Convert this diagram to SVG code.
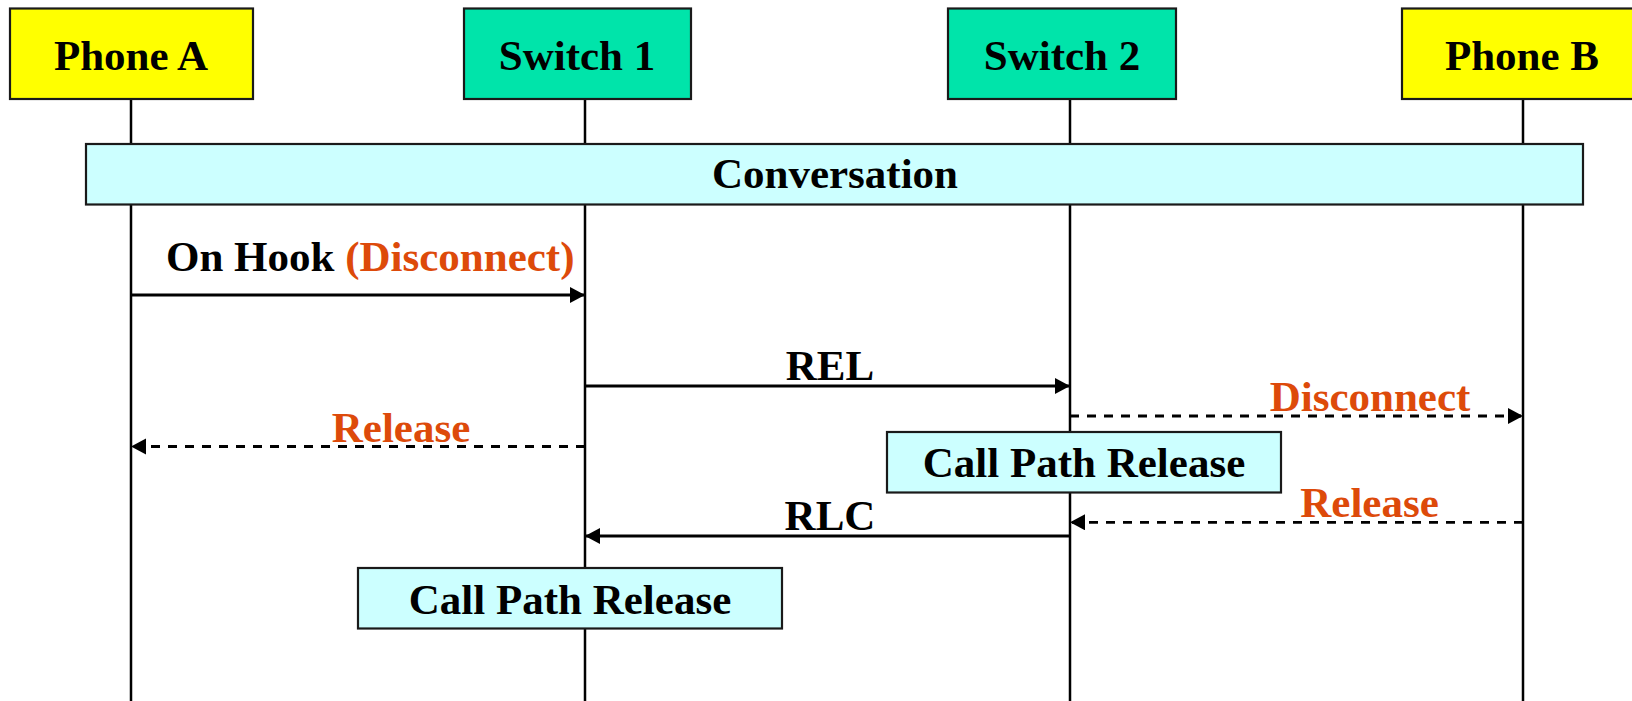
<svg xmlns="http://www.w3.org/2000/svg" width="1632" height="701" viewBox="0 0 1632 701">
<style>
text{font-family:"Liberation Serif","Times New Roman",serif;font-weight:bold;font-size:43px;fill:#000}
.c{text-anchor:middle}
.o{fill:#DD4A0A}
.box{stroke:#1a1a1a;stroke-width:2.2}
.phone{fill:#FFFF00}
.sw{fill:#00E4AA}
.act{fill:#CCFFFF}
.life{stroke:#000;stroke-width:2.5;fill:none}
.msg{stroke:#000;stroke-width:2.8;fill:none}
.dash{stroke-dasharray:9 8}
</style>
<defs>
<marker id="ah" markerUnits="userSpaceOnUse" markerWidth="16" markerHeight="17" refX="15" refY="8" orient="auto">
<path d="M0,0 L15,8 L0,16 z" fill="#000"/>
</marker>
</defs>
<rect width="1632" height="701" fill="#fff"/>
<g id="lifelines">
<line class="life" x1="131" y1="99" x2="131" y2="701"/>
<line class="life" x1="585" y1="99" x2="585" y2="701"/>
<line class="life" x1="1070" y1="99" x2="1070" y2="701"/>
<line class="life" x1="1523" y1="99" x2="1523" y2="701"/>
</g>
<g id="phoneA">
<rect class="box phone" x="10" y="8.5" width="243" height="90.5"/>
<text class="c" x="131" y="70">Phone A</text>
</g>
<g id="switch1">
<rect class="box sw" x="464" y="8.5" width="227" height="90.5"/>
<text class="c" x="577" y="70">Switch 1</text>
</g>
<g id="switch2">
<rect class="box sw" x="948" y="8.5" width="228" height="90.5"/>
<text class="c" x="1062" y="70">Switch 2</text>
</g>
<g id="phoneB">
<rect class="box phone" x="1402" y="8.5" width="240" height="90.5"/>
<text class="c" x="1522" y="70">Phone B</text>
</g>
<g id="conversation">
<rect class="box act" x="86" y="144" width="1497" height="60.5"/>
<text class="c" x="835" y="188">Conversation</text>
</g>
<g id="connectors">
<line class="msg" x1="131" y1="295" x2="585" y2="295" marker-end="url(#ah)"/>
<line class="msg" x1="585" y1="386" x2="1070" y2="386" marker-end="url(#ah)"/>
<line class="msg dash" x1="1070" y1="416" x2="1523" y2="416" marker-end="url(#ah)"/>
<line class="msg dash" x1="585" y1="446.5" x2="131" y2="446.5" marker-end="url(#ah)"/>
<line class="msg dash" x1="1523" y1="522.3" x2="1070" y2="522.3" marker-end="url(#ah)"/>
<line class="msg" x1="1070" y1="536" x2="585" y2="536" marker-end="url(#ah)"/>
<text x="166" y="271">On Hook <tspan class="o">(Disconnect)</tspan></text>
<text class="c" x="830" y="380">REL</text>
<text class="c o" x="1370" y="411">Disconnect</text>
<text class="c o" x="401" y="442">Release</text>
<text class="c o" x="1369.5" y="517">Release</text>
<text class="c" x="830" y="530">RLC</text>
</g>
<g id="callPathRelease1">
<rect class="box act" x="887" y="432" width="394" height="60.5"/>
<text class="c" x="1084" y="477">Call Path Release</text>
</g>
<g id="callPathRelease2">
<rect class="box act" x="358" y="568" width="424" height="60.5"/>
<text class="c" x="570" y="614">Call Path Release</text>
</g>
</svg>
